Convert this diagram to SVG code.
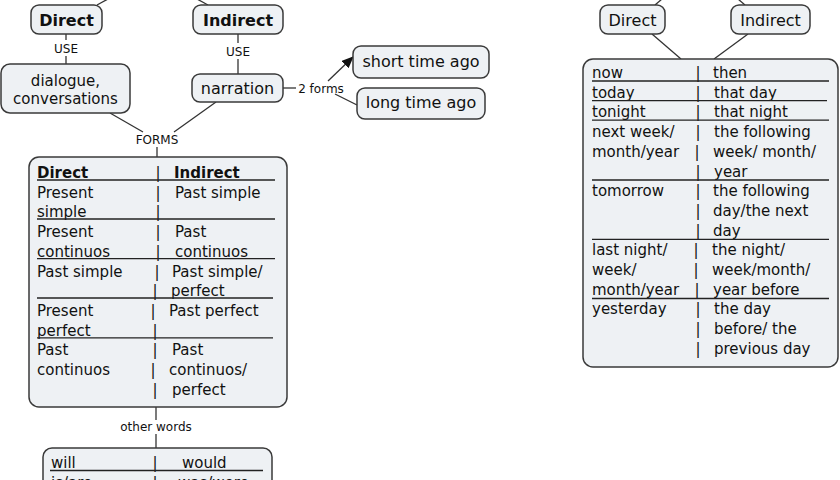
<svg xmlns="http://www.w3.org/2000/svg" width="840" height="480" viewBox="0 0 840 480">
<style>
.node{fill:#eef1f4;stroke:#3a3a3a;stroke-width:1.5}
.t{font-family:"DejaVu Sans",Verdana,sans-serif;fill:#111}
.n16{font-size:16px}
.n15{font-size:15px}
.b{font-weight:bold}
.lbl{font-family:"DejaVu Sans",Verdana,sans-serif;font-size:12px;fill:#111;text-anchor:middle}
.c{text-anchor:middle}
.rule{stroke:#222;stroke-width:1.3}
.conn line,.conn path{stroke:#333;stroke-width:1.3;fill:none}
</style>
<defs>
<marker id="arr" markerWidth="12" markerHeight="10" refX="11" refY="5" orient="auto" markerUnits="userSpaceOnUse">
<path d="M0,0 L12,5 L0,10 z" fill="#111"/>
</marker>
</defs>
<rect width="840" height="480" fill="#fff"/>
<g id="connectors" class="conn">
<line x1="97" y1="5" x2="108" y2="-1"/>
<line x1="208" y1="5" x2="197" y2="-1"/>
<line x1="655" y1="5" x2="662" y2="-1"/>
<line x1="745" y1="5" x2="738" y2="-1"/>
<line x1="66" y1="34" x2="66" y2="40"/>
<line x1="66" y1="56" x2="66" y2="64"/>
<line x1="238" y1="34" x2="238" y2="43"/>
<line x1="238" y1="59" x2="238" y2="74"/>
<line x1="110" y1="113" x2="143" y2="132"/>
<line x1="216" y1="102" x2="174" y2="132"/>
<line x1="157" y1="147" x2="157" y2="157"/>
<line x1="283" y1="88" x2="296" y2="88"/>
<line x1="328" y1="81" x2="353" y2="57" marker-end="url(#arr)"/>
<line x1="335" y1="94" x2="357" y2="105"/>
<line x1="156" y1="407" x2="156" y2="420"/>
<line x1="156" y1="434" x2="156" y2="448"/>
<line x1="652" y1="34" x2="681" y2="59"/>
<line x1="748" y1="34" x2="714" y2="59"/>
<text class="lbl" x="66" y="53">USE</text>
<text class="lbl" x="238" y="56">USE</text>
<text class="lbl" x="157" y="144">FORMS</text>
<text class="lbl" x="321" y="93">2 forms</text>
<text class="lbl" x="156" y="431">other words</text>
</g>
<g id="node-direct-left">
<rect class="node" x="31" y="5" width="71" height="29" rx="8"/>
<text class="t n16 b c" x="66.5" y="26">Direct</text>
</g>
<g id="node-indirect-left">
<rect class="node" x="193" y="5" width="90" height="29" rx="8"/>
<text class="t n16 b c" x="238" y="26">Indirect</text>
</g>
<g id="node-dialogue">
<rect class="node" x="1" y="64" width="129" height="49" rx="9"/>
<text class="t n15 c" x="65.5" y="86">dialogue,</text>
<text class="t n15 c" x="65.5" y="104">conversations</text>
</g>
<g id="node-narration">
<rect class="node" x="192" y="74" width="91" height="28" rx="8"/>
<text class="t n16 c" x="237.5" y="94">narration</text>
</g>
<g id="node-short">
<rect class="node" x="353" y="46" width="136" height="32" rx="8"/>
<text class="t n16 c" x="421" y="67">short time ago</text>
</g>
<g id="node-long">
<rect class="node" x="357" y="88" width="128" height="31" rx="8"/>
<text class="t n16 c" x="421" y="108">long time ago</text>
</g>
<g id="node-tenses">
<rect class="node" x="29" y="157" width="258" height="250" rx="10"/>
<g class="t n15">
<text class="b" x="37" y="178">Direct</text><text class="c" x="158" y="178">|</text><text class="b" x="174" y="178">Indirect</text>
<text x="37" y="197.7">Present</text><text class="c" x="158" y="197.7">|</text><text x="175" y="197.7">Past simple</text>
<text x="37" y="217.4">simple</text><text class="c" x="158" y="217.4">|</text>
<text x="37" y="237.1">Present</text><text class="c" x="158" y="237.1">|</text><text x="175" y="237.1">Past</text>
<text x="37" y="256.8">continuos</text><text class="c" x="158" y="256.8">|</text><text x="175" y="256.8">continuos</text>
<text x="37" y="276.5">Past simple</text><text class="c" x="157" y="276.5">|</text><text x="172" y="276.5">Past simple/</text>
<text class="c" x="155" y="296.2">|</text><text x="171" y="296.2">perfect</text>
<text x="37" y="315.9">Present</text><text class="c" x="153" y="315.9">|</text><text x="169" y="315.9">Past perfect</text>
<text x="37" y="335.6">perfect</text><text class="c" x="155" y="335.6">|</text>
<text x="37" y="355.3">Past</text><text class="c" x="155" y="355.3">|</text><text x="172" y="355.3">Past</text>
<text x="37" y="375">continuos</text><text class="c" x="153" y="375">|</text><text x="169" y="375">continuos/</text>
<text class="c" x="155" y="394.7">|</text><text x="172" y="394.7">perfect</text>
</g>
<line class="rule" x1="37" y1="180" x2="275" y2="180"/>
<line class="rule" x1="37" y1="219" x2="275" y2="219"/>
<line class="rule" x1="37" y1="258.7" x2="275" y2="258.7"/>
<line class="rule" x1="37" y1="298" x2="273" y2="298"/>
<line class="rule" x1="37" y1="337.8" x2="273" y2="337.8"/>
</g>
<g id="node-other-words">
<rect class="node" x="43" y="448" width="229" height="50" rx="9"/>
<g class="t n15">
<text x="51" y="468">will</text><text class="c" x="155" y="468">|</text><text x="182" y="468">would</text>
<text x="51" y="488">is/are</text><text class="c" x="155" y="488">|</text><text x="178" y="488">was/were</text>
</g>
<line class="rule" x1="50" y1="470.5" x2="263" y2="470.5"/>
</g>
<g id="node-direct-right">
<rect class="node" x="600" y="5" width="65" height="29" rx="8"/>
<text class="t n16 c" x="632.5" y="26">Direct</text>
</g>
<g id="node-indirect-right">
<rect class="node" x="731" y="5" width="79" height="29" rx="8"/>
<text class="t n16 c" x="770.5" y="26">Indirect</text>
</g>
<g id="node-time-words">
<rect class="node" x="583" y="59" width="255" height="308" rx="10"/>
<g class="t n15">
<text x="592" y="78">now</text><text class="c" x="698" y="78">|</text><text x="713" y="78">then</text>
<text x="592" y="97.7">today</text><text class="c" x="698" y="97.7">|</text><text x="714" y="97.7">that day</text>
<text x="592" y="117.4">tonight</text><text class="c" x="698" y="117.4">|</text><text x="714" y="117.4">that night</text>
<text x="592" y="137.1">next week/</text><text class="c" x="698" y="137.1">|</text><text x="714" y="137.1">the following</text>
<text x="592" y="156.8">month/year</text><text class="c" x="697" y="156.8">|</text><text x="713" y="156.8">week/ month/</text>
<text class="c" x="698" y="176.5">|</text><text x="714" y="176.5">year</text>
<text x="592" y="196.2">tomorrow</text><text class="c" x="698" y="196.2">|</text><text x="713" y="196.2">the following</text>
<text class="c" x="698" y="215.9">|</text><text x="713" y="215.9">day/the next</text>
<text class="c" x="698" y="235.6">|</text><text x="713" y="235.6">day</text>
<text x="592" y="255.3">last night/</text><text class="c" x="696" y="255.3">|</text><text x="712" y="255.3">the night/</text>
<text x="592" y="275">week/</text><text class="c" x="696" y="275">|</text><text x="712" y="275">week/month/</text>
<text x="592" y="294.7">month/year</text><text class="c" x="697" y="294.7">|</text><text x="713" y="294.7">year before</text>
<text x="592" y="314.4">yesterday</text><text class="c" x="698" y="314.4">|</text><text x="714" y="314.4">the day</text>
<text class="c" x="698" y="334.1">|</text><text x="714" y="334.1">before/ the</text>
<text class="c" x="698" y="353.8">|</text><text x="714" y="353.8">previous day</text>
</g>
<line class="rule" x1="592" y1="81" x2="829" y2="81"/>
<line class="rule" x1="592" y1="100.7" x2="827" y2="100.7"/>
<line class="rule" x1="592" y1="120.2" x2="829" y2="120.2"/>
<line class="rule" x1="592" y1="180" x2="829" y2="180"/>
<line class="rule" x1="592" y1="239.3" x2="829" y2="239.3"/>
<line class="rule" x1="592" y1="298.5" x2="829" y2="298.5"/>
</g>
</svg>
